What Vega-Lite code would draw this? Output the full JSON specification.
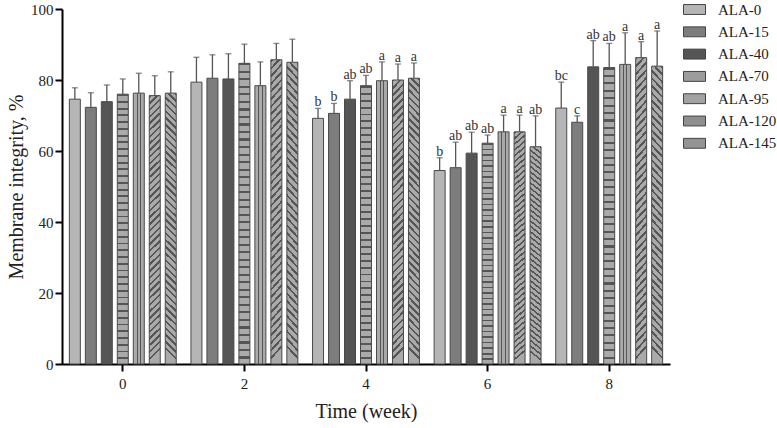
{
  "$schema": "https://vega.github.io/schema/vega-lite/v6.json",
  "autosize": {"type": "none"},
  "width": 608,
  "height": 355,
  "padding": {"left": 62, "top": 9, "right": 107, "bottom": 64},
  "background": "white",
  "config": {
    "view": {"stroke": null},
    "font": "Liberation Serif",
    "axis": {"grid": false, "domainColor": "#000", "domainWidth": 2, "tickColor": "#000", "tickWidth": 2, "tickSize": 7, "labelFont": "Liberation Serif", "labelFontSize": 15, "labelColor": "#222", "titleFont": "Liberation Serif", "titleFontSize": 20, "titleFontWeight": "normal", "titleColor": "#222"}
  },
  "data": {"values": [
    {"week": "0", "series": "ALA-0", "value": 74.6, "err": 77.8, "label": ""},
    {"week": "0", "series": "ALA-15", "value": 72.3, "err": 76.4, "label": ""},
    {"week": "0", "series": "ALA-40", "value": 73.9, "err": 78.6, "label": ""},
    {"week": "0", "series": "ALA-70", "value": 76.0, "err": 80.3, "label": ""},
    {"week": "0", "series": "ALA-95", "value": 76.3, "err": 81.9, "label": ""},
    {"week": "0", "series": "ALA-120", "value": 75.6, "err": 81.2, "label": ""},
    {"week": "0", "series": "ALA-145", "value": 76.3, "err": 82.3, "label": ""},
    {"week": "2", "series": "ALA-0", "value": 79.4, "err": 86.4, "label": ""},
    {"week": "2", "series": "ALA-15", "value": 80.5, "err": 87.1, "label": ""},
    {"week": "2", "series": "ALA-40", "value": 80.3, "err": 87.4, "label": ""},
    {"week": "2", "series": "ALA-70", "value": 84.7, "err": 90.1, "label": ""},
    {"week": "2", "series": "ALA-95", "value": 78.4, "err": 85.1, "label": ""},
    {"week": "2", "series": "ALA-120", "value": 85.7, "err": 90.3, "label": ""},
    {"week": "2", "series": "ALA-145", "value": 85.0, "err": 91.5, "label": ""},
    {"week": "4", "series": "ALA-0", "value": 69.2, "err": 72.0, "label": "b"},
    {"week": "4", "series": "ALA-15", "value": 70.6, "err": 73.4, "label": "b"},
    {"week": "4", "series": "ALA-40", "value": 74.6, "err": 79.8, "label": "ab"},
    {"week": "4", "series": "ALA-70", "value": 78.4, "err": 81.3, "label": "ab"},
    {"week": "4", "series": "ALA-95", "value": 79.8, "err": 85.1, "label": "a"},
    {"week": "4", "series": "ALA-120", "value": 80.0, "err": 84.5, "label": "a"},
    {"week": "4", "series": "ALA-145", "value": 80.5, "err": 84.8, "label": "a"},
    {"week": "6", "series": "ALA-0", "value": 54.5, "err": 58.1, "label": "b"},
    {"week": "6", "series": "ALA-15", "value": 55.3, "err": 62.5, "label": "ab"},
    {"week": "6", "series": "ALA-40", "value": 59.4, "err": 65.3, "label": "ab"},
    {"week": "6", "series": "ALA-70", "value": 62.2, "err": 64.5, "label": "ab"},
    {"week": "6", "series": "ALA-95", "value": 65.4, "err": 70.1, "label": "a"},
    {"week": "6", "series": "ALA-120", "value": 65.4, "err": 70.1, "label": "a"},
    {"week": "6", "series": "ALA-145", "value": 61.2, "err": 69.9, "label": "ab"},
    {"week": "8", "series": "ALA-0", "value": 72.1, "err": 79.4, "label": "bc"},
    {"week": "8", "series": "ALA-15", "value": 68.1, "err": 69.9, "label": "c"},
    {"week": "8", "series": "ALA-40", "value": 83.7, "err": 91.1, "label": "ab"},
    {"week": "8", "series": "ALA-70", "value": 83.5, "err": 90.3, "label": "ab"},
    {"week": "8", "series": "ALA-95", "value": 84.4, "err": 93.3, "label": "a"},
    {"week": "8", "series": "ALA-120", "value": 86.3, "err": 90.8, "label": "a"},
    {"week": "8", "series": "ALA-145", "value": 83.9, "err": 93.8, "label": "a"}
  ]},
  "encoding": {
    "x": {"field": "week", "type": "nominal", "sort": ["0", "2", "4", "6", "8"], "scale": {"paddingInner": 0, "paddingOuter": 0}, "axis": {"title": "Time (week)", "labelAngle": 0, "labelPadding": 5, "titlePadding": 10}},
    "xOffset": {"field": "series", "type": "nominal", "sort": ["ALA-0", "ALA-15", "ALA-40", "ALA-70", "ALA-95", "ALA-120", "ALA-145"], "scale": {"paddingInner": 0.3125, "paddingOuter": 0.46}}
  },
  "layer": [
    {
      "mark": {"type": "bar", "stroke": "#4a4a4a", "strokeWidth": 1},
      "encoding": {
        "y": {"field": "value", "type": "quantitative", "scale": {"domain": [0, 100], "nice": false}, "axis": {"title": "Membrane integrity, %", "values": [0,5,10,15,20,25,30,35,40,45,50,55,60,65,70,75,80,85,90,95,100], "labelExpr": "datum.value % 20 === 0 ? datum.label : ''", "labelPadding": 2, "titlePadding": 4}},
        "color": {
          "field": "series", "type": "nominal",
          "scale": {"domain": ["ALA-0", "ALA-15", "ALA-40", "ALA-70", "ALA-95", "ALA-120", "ALA-145"], "range": ["#b5b5b5", "#7d7d7d", "#555555", "#9c9c9c", "#a2a2a2", "#8f8f8f", "#939393"]},
          "legend": {"title": null, "orient": "none", "legendX": 621, "legendY": -11, "padding": 0, "symbolType": "M-1,-0.45H1V0.45H-1Z", "symbolSize": 484, "symbolStrokeColor": "#444", "symbolStrokeWidth": 1, "symbolOpacity": 1, "labelFont": "Liberation Serif", "labelFontSize": 15, "labelColor": "#222", "labelOffset": 12, "rowPadding": 2.3},
          "condition": [
            {"test": "datum.series === 'ALA-95'", "value": {"gradient": "linear", "x1": 0, "y1": 0, "x2": 1, "y2": 0, "stops": [{"offset": 0, "color": "#aaa"}, {"offset": 0.3, "color": "#aaa"}, {"offset": 0.3, "color": "#555"}, {"offset": 0.39, "color": "#555"}, {"offset": 0.39, "color": "#aaa"}, {"offset": 0.61, "color": "#aaa"}, {"offset": 0.61, "color": "#555"}, {"offset": 0.7, "color": "#555"}, {"offset": 0.7, "color": "#aaa"}, {"offset": 1, "color": "#aaa"}]}},
            {"test": "datum.series === 'ALA-70'", "value": {"gradient": "linear", "x1": 0, "y1": 0, "x2": 0, "y2": 1, "stops": [{"offset":0,"color":"#555"},{"offset":0.007,"color":"#555"},{"offset":0.007,"color":"#aaa"},{"offset":0.025,"color":"#aaa"},{"offset":0.025,"color":"#555"},{"offset":0.032,"color":"#555"},{"offset":0.032,"color":"#aaa"},{"offset":0.05,"color":"#aaa"},{"offset":0.05,"color":"#555"},{"offset":0.057,"color":"#555"},{"offset":0.057,"color":"#aaa"},{"offset":0.075,"color":"#aaa"},{"offset":0.075,"color":"#555"},{"offset":0.082,"color":"#555"},{"offset":0.082,"color":"#aaa"},{"offset":0.1,"color":"#aaa"},{"offset":0.1,"color":"#555"},{"offset":0.107,"color":"#555"},{"offset":0.107,"color":"#aaa"},{"offset":0.125,"color":"#aaa"},{"offset":0.125,"color":"#555"},{"offset":0.132,"color":"#555"},{"offset":0.132,"color":"#aaa"},{"offset":0.15,"color":"#aaa"},{"offset":0.15,"color":"#555"},{"offset":0.157,"color":"#555"},{"offset":0.157,"color":"#aaa"},{"offset":0.175,"color":"#aaa"},{"offset":0.175,"color":"#555"},{"offset":0.182,"color":"#555"},{"offset":0.182,"color":"#aaa"},{"offset":0.2,"color":"#aaa"},{"offset":0.2,"color":"#555"},{"offset":0.207,"color":"#555"},{"offset":0.207,"color":"#aaa"},{"offset":0.225,"color":"#aaa"},{"offset":0.225,"color":"#555"},{"offset":0.232,"color":"#555"},{"offset":0.232,"color":"#aaa"},{"offset":0.25,"color":"#aaa"},{"offset":0.25,"color":"#555"},{"offset":0.257,"color":"#555"},{"offset":0.257,"color":"#aaa"},{"offset":0.275,"color":"#aaa"},{"offset":0.275,"color":"#555"},{"offset":0.282,"color":"#555"},{"offset":0.282,"color":"#aaa"},{"offset":0.3,"color":"#aaa"},{"offset":0.3,"color":"#555"},{"offset":0.307,"color":"#555"},{"offset":0.307,"color":"#aaa"},{"offset":0.325,"color":"#aaa"},{"offset":0.325,"color":"#555"},{"offset":0.332,"color":"#555"},{"offset":0.332,"color":"#aaa"},{"offset":0.35,"color":"#aaa"},{"offset":0.35,"color":"#555"},{"offset":0.357,"color":"#555"},{"offset":0.357,"color":"#aaa"},{"offset":0.375,"color":"#aaa"},{"offset":0.375,"color":"#555"},{"offset":0.382,"color":"#555"},{"offset":0.382,"color":"#aaa"},{"offset":0.4,"color":"#aaa"},{"offset":0.4,"color":"#555"},{"offset":0.407,"color":"#555"},{"offset":0.407,"color":"#aaa"},{"offset":0.425,"color":"#aaa"},{"offset":0.425,"color":"#555"},{"offset":0.432,"color":"#555"},{"offset":0.432,"color":"#aaa"},{"offset":0.45,"color":"#aaa"},{"offset":0.45,"color":"#555"},{"offset":0.457,"color":"#555"},{"offset":0.457,"color":"#aaa"},{"offset":0.475,"color":"#aaa"},{"offset":0.475,"color":"#555"},{"offset":0.482,"color":"#555"},{"offset":0.482,"color":"#aaa"},{"offset":0.5,"color":"#aaa"},{"offset":0.5,"color":"#555"},{"offset":0.507,"color":"#555"},{"offset":0.507,"color":"#aaa"},{"offset":0.525,"color":"#aaa"},{"offset":0.525,"color":"#555"},{"offset":0.532,"color":"#555"},{"offset":0.532,"color":"#aaa"},{"offset":0.55,"color":"#aaa"},{"offset":0.55,"color":"#555"},{"offset":0.557,"color":"#555"},{"offset":0.557,"color":"#aaa"},{"offset":0.575,"color":"#aaa"},{"offset":0.575,"color":"#555"},{"offset":0.582,"color":"#555"},{"offset":0.582,"color":"#aaa"},{"offset":0.6,"color":"#aaa"},{"offset":0.6,"color":"#555"},{"offset":0.607,"color":"#555"},{"offset":0.607,"color":"#aaa"},{"offset":0.625,"color":"#aaa"},{"offset":0.625,"color":"#555"},{"offset":0.632,"color":"#555"},{"offset":0.632,"color":"#aaa"},{"offset":0.65,"color":"#aaa"},{"offset":0.65,"color":"#555"},{"offset":0.657,"color":"#555"},{"offset":0.657,"color":"#aaa"},{"offset":0.675,"color":"#aaa"},{"offset":0.675,"color":"#555"},{"offset":0.682,"color":"#555"},{"offset":0.682,"color":"#aaa"},{"offset":0.7,"color":"#aaa"},{"offset":0.7,"color":"#555"},{"offset":0.707,"color":"#555"},{"offset":0.707,"color":"#aaa"},{"offset":0.725,"color":"#aaa"},{"offset":0.725,"color":"#555"},{"offset":0.732,"color":"#555"},{"offset":0.732,"color":"#aaa"},{"offset":0.75,"color":"#aaa"},{"offset":0.75,"color":"#555"},{"offset":0.757,"color":"#555"},{"offset":0.757,"color":"#aaa"},{"offset":0.775,"color":"#aaa"},{"offset":0.775,"color":"#555"},{"offset":0.782,"color":"#555"},{"offset":0.782,"color":"#aaa"},{"offset":0.8,"color":"#aaa"},{"offset":0.8,"color":"#555"},{"offset":0.807,"color":"#555"},{"offset":0.807,"color":"#aaa"},{"offset":0.825,"color":"#aaa"},{"offset":0.825,"color":"#555"},{"offset":0.832,"color":"#555"},{"offset":0.832,"color":"#aaa"},{"offset":0.85,"color":"#aaa"},{"offset":0.85,"color":"#555"},{"offset":0.857,"color":"#555"},{"offset":0.857,"color":"#aaa"},{"offset":0.875,"color":"#aaa"},{"offset":0.875,"color":"#555"},{"offset":0.882,"color":"#555"},{"offset":0.882,"color":"#aaa"},{"offset":0.9,"color":"#aaa"},{"offset":0.9,"color":"#555"},{"offset":0.907,"color":"#555"},{"offset":0.907,"color":"#aaa"},{"offset":0.925,"color":"#aaa"},{"offset":0.925,"color":"#555"},{"offset":0.932,"color":"#555"},{"offset":0.932,"color":"#aaa"},{"offset":0.95,"color":"#aaa"},{"offset":0.95,"color":"#555"},{"offset":0.957,"color":"#555"},{"offset":0.957,"color":"#aaa"},{"offset":0.975,"color":"#aaa"},{"offset":0.975,"color":"#555"},{"offset":0.982,"color":"#555"},{"offset":0.982,"color":"#aaa"},{"offset":1,"color":"#aaa"}]}},
            {"test": "datum.series === 'ALA-120'", "value": {"gradient": "linear", "x1": 0, "y1": 0, "x2": 0.04, "y2": 1, "stops": [{"offset":0,"color":"#555"},{"offset":0.009,"color":"#555"},{"offset":0.009,"color":"#aaa"},{"offset":0.025,"color":"#aaa"},{"offset":0.025,"color":"#555"},{"offset":0.034,"color":"#555"},{"offset":0.034,"color":"#aaa"},{"offset":0.05,"color":"#aaa"},{"offset":0.05,"color":"#555"},{"offset":0.059,"color":"#555"},{"offset":0.059,"color":"#aaa"},{"offset":0.075,"color":"#aaa"},{"offset":0.075,"color":"#555"},{"offset":0.084,"color":"#555"},{"offset":0.084,"color":"#aaa"},{"offset":0.1,"color":"#aaa"},{"offset":0.1,"color":"#555"},{"offset":0.109,"color":"#555"},{"offset":0.109,"color":"#aaa"},{"offset":0.125,"color":"#aaa"},{"offset":0.125,"color":"#555"},{"offset":0.134,"color":"#555"},{"offset":0.134,"color":"#aaa"},{"offset":0.15,"color":"#aaa"},{"offset":0.15,"color":"#555"},{"offset":0.159,"color":"#555"},{"offset":0.159,"color":"#aaa"},{"offset":0.175,"color":"#aaa"},{"offset":0.175,"color":"#555"},{"offset":0.184,"color":"#555"},{"offset":0.184,"color":"#aaa"},{"offset":0.2,"color":"#aaa"},{"offset":0.2,"color":"#555"},{"offset":0.209,"color":"#555"},{"offset":0.209,"color":"#aaa"},{"offset":0.225,"color":"#aaa"},{"offset":0.225,"color":"#555"},{"offset":0.234,"color":"#555"},{"offset":0.234,"color":"#aaa"},{"offset":0.25,"color":"#aaa"},{"offset":0.25,"color":"#555"},{"offset":0.259,"color":"#555"},{"offset":0.259,"color":"#aaa"},{"offset":0.275,"color":"#aaa"},{"offset":0.275,"color":"#555"},{"offset":0.284,"color":"#555"},{"offset":0.284,"color":"#aaa"},{"offset":0.3,"color":"#aaa"},{"offset":0.3,"color":"#555"},{"offset":0.309,"color":"#555"},{"offset":0.309,"color":"#aaa"},{"offset":0.325,"color":"#aaa"},{"offset":0.325,"color":"#555"},{"offset":0.334,"color":"#555"},{"offset":0.334,"color":"#aaa"},{"offset":0.35,"color":"#aaa"},{"offset":0.35,"color":"#555"},{"offset":0.359,"color":"#555"},{"offset":0.359,"color":"#aaa"},{"offset":0.375,"color":"#aaa"},{"offset":0.375,"color":"#555"},{"offset":0.384,"color":"#555"},{"offset":0.384,"color":"#aaa"},{"offset":0.4,"color":"#aaa"},{"offset":0.4,"color":"#555"},{"offset":0.409,"color":"#555"},{"offset":0.409,"color":"#aaa"},{"offset":0.425,"color":"#aaa"},{"offset":0.425,"color":"#555"},{"offset":0.434,"color":"#555"},{"offset":0.434,"color":"#aaa"},{"offset":0.45,"color":"#aaa"},{"offset":0.45,"color":"#555"},{"offset":0.459,"color":"#555"},{"offset":0.459,"color":"#aaa"},{"offset":0.475,"color":"#aaa"},{"offset":0.475,"color":"#555"},{"offset":0.484,"color":"#555"},{"offset":0.484,"color":"#aaa"},{"offset":0.5,"color":"#aaa"},{"offset":0.5,"color":"#555"},{"offset":0.509,"color":"#555"},{"offset":0.509,"color":"#aaa"},{"offset":0.525,"color":"#aaa"},{"offset":0.525,"color":"#555"},{"offset":0.534,"color":"#555"},{"offset":0.534,"color":"#aaa"},{"offset":0.55,"color":"#aaa"},{"offset":0.55,"color":"#555"},{"offset":0.559,"color":"#555"},{"offset":0.559,"color":"#aaa"},{"offset":0.575,"color":"#aaa"},{"offset":0.575,"color":"#555"},{"offset":0.584,"color":"#555"},{"offset":0.584,"color":"#aaa"},{"offset":0.6,"color":"#aaa"},{"offset":0.6,"color":"#555"},{"offset":0.609,"color":"#555"},{"offset":0.609,"color":"#aaa"},{"offset":0.625,"color":"#aaa"},{"offset":0.625,"color":"#555"},{"offset":0.634,"color":"#555"},{"offset":0.634,"color":"#aaa"},{"offset":0.65,"color":"#aaa"},{"offset":0.65,"color":"#555"},{"offset":0.659,"color":"#555"},{"offset":0.659,"color":"#aaa"},{"offset":0.675,"color":"#aaa"},{"offset":0.675,"color":"#555"},{"offset":0.684,"color":"#555"},{"offset":0.684,"color":"#aaa"},{"offset":0.7,"color":"#aaa"},{"offset":0.7,"color":"#555"},{"offset":0.709,"color":"#555"},{"offset":0.709,"color":"#aaa"},{"offset":0.725,"color":"#aaa"},{"offset":0.725,"color":"#555"},{"offset":0.734,"color":"#555"},{"offset":0.734,"color":"#aaa"},{"offset":0.75,"color":"#aaa"},{"offset":0.75,"color":"#555"},{"offset":0.759,"color":"#555"},{"offset":0.759,"color":"#aaa"},{"offset":0.775,"color":"#aaa"},{"offset":0.775,"color":"#555"},{"offset":0.784,"color":"#555"},{"offset":0.784,"color":"#aaa"},{"offset":0.8,"color":"#aaa"},{"offset":0.8,"color":"#555"},{"offset":0.809,"color":"#555"},{"offset":0.809,"color":"#aaa"},{"offset":0.825,"color":"#aaa"},{"offset":0.825,"color":"#555"},{"offset":0.834,"color":"#555"},{"offset":0.834,"color":"#aaa"},{"offset":0.85,"color":"#aaa"},{"offset":0.85,"color":"#555"},{"offset":0.859,"color":"#555"},{"offset":0.859,"color":"#aaa"},{"offset":0.875,"color":"#aaa"},{"offset":0.875,"color":"#555"},{"offset":0.884,"color":"#555"},{"offset":0.884,"color":"#aaa"},{"offset":0.9,"color":"#aaa"},{"offset":0.9,"color":"#555"},{"offset":0.909,"color":"#555"},{"offset":0.909,"color":"#aaa"},{"offset":0.925,"color":"#aaa"},{"offset":0.925,"color":"#555"},{"offset":0.934,"color":"#555"},{"offset":0.934,"color":"#aaa"},{"offset":0.95,"color":"#aaa"},{"offset":0.95,"color":"#555"},{"offset":0.959,"color":"#555"},{"offset":0.959,"color":"#aaa"},{"offset":0.975,"color":"#aaa"},{"offset":0.975,"color":"#555"},{"offset":0.984,"color":"#555"},{"offset":0.984,"color":"#aaa"},{"offset":1,"color":"#aaa"}]}},
            {"test": "datum.series === 'ALA-145'", "value": {"gradient": "linear", "x1": 1, "y1": 0, "x2": 0.96, "y2": 1, "stops": [{"offset":0,"color":"#555"},{"offset":0.009,"color":"#555"},{"offset":0.009,"color":"#aaa"},{"offset":0.025,"color":"#aaa"},{"offset":0.025,"color":"#555"},{"offset":0.034,"color":"#555"},{"offset":0.034,"color":"#aaa"},{"offset":0.05,"color":"#aaa"},{"offset":0.05,"color":"#555"},{"offset":0.059,"color":"#555"},{"offset":0.059,"color":"#aaa"},{"offset":0.075,"color":"#aaa"},{"offset":0.075,"color":"#555"},{"offset":0.084,"color":"#555"},{"offset":0.084,"color":"#aaa"},{"offset":0.1,"color":"#aaa"},{"offset":0.1,"color":"#555"},{"offset":0.109,"color":"#555"},{"offset":0.109,"color":"#aaa"},{"offset":0.125,"color":"#aaa"},{"offset":0.125,"color":"#555"},{"offset":0.134,"color":"#555"},{"offset":0.134,"color":"#aaa"},{"offset":0.15,"color":"#aaa"},{"offset":0.15,"color":"#555"},{"offset":0.159,"color":"#555"},{"offset":0.159,"color":"#aaa"},{"offset":0.175,"color":"#aaa"},{"offset":0.175,"color":"#555"},{"offset":0.184,"color":"#555"},{"offset":0.184,"color":"#aaa"},{"offset":0.2,"color":"#aaa"},{"offset":0.2,"color":"#555"},{"offset":0.209,"color":"#555"},{"offset":0.209,"color":"#aaa"},{"offset":0.225,"color":"#aaa"},{"offset":0.225,"color":"#555"},{"offset":0.234,"color":"#555"},{"offset":0.234,"color":"#aaa"},{"offset":0.25,"color":"#aaa"},{"offset":0.25,"color":"#555"},{"offset":0.259,"color":"#555"},{"offset":0.259,"color":"#aaa"},{"offset":0.275,"color":"#aaa"},{"offset":0.275,"color":"#555"},{"offset":0.284,"color":"#555"},{"offset":0.284,"color":"#aaa"},{"offset":0.3,"color":"#aaa"},{"offset":0.3,"color":"#555"},{"offset":0.309,"color":"#555"},{"offset":0.309,"color":"#aaa"},{"offset":0.325,"color":"#aaa"},{"offset":0.325,"color":"#555"},{"offset":0.334,"color":"#555"},{"offset":0.334,"color":"#aaa"},{"offset":0.35,"color":"#aaa"},{"offset":0.35,"color":"#555"},{"offset":0.359,"color":"#555"},{"offset":0.359,"color":"#aaa"},{"offset":0.375,"color":"#aaa"},{"offset":0.375,"color":"#555"},{"offset":0.384,"color":"#555"},{"offset":0.384,"color":"#aaa"},{"offset":0.4,"color":"#aaa"},{"offset":0.4,"color":"#555"},{"offset":0.409,"color":"#555"},{"offset":0.409,"color":"#aaa"},{"offset":0.425,"color":"#aaa"},{"offset":0.425,"color":"#555"},{"offset":0.434,"color":"#555"},{"offset":0.434,"color":"#aaa"},{"offset":0.45,"color":"#aaa"},{"offset":0.45,"color":"#555"},{"offset":0.459,"color":"#555"},{"offset":0.459,"color":"#aaa"},{"offset":0.475,"color":"#aaa"},{"offset":0.475,"color":"#555"},{"offset":0.484,"color":"#555"},{"offset":0.484,"color":"#aaa"},{"offset":0.5,"color":"#aaa"},{"offset":0.5,"color":"#555"},{"offset":0.509,"color":"#555"},{"offset":0.509,"color":"#aaa"},{"offset":0.525,"color":"#aaa"},{"offset":0.525,"color":"#555"},{"offset":0.534,"color":"#555"},{"offset":0.534,"color":"#aaa"},{"offset":0.55,"color":"#aaa"},{"offset":0.55,"color":"#555"},{"offset":0.559,"color":"#555"},{"offset":0.559,"color":"#aaa"},{"offset":0.575,"color":"#aaa"},{"offset":0.575,"color":"#555"},{"offset":0.584,"color":"#555"},{"offset":0.584,"color":"#aaa"},{"offset":0.6,"color":"#aaa"},{"offset":0.6,"color":"#555"},{"offset":0.609,"color":"#555"},{"offset":0.609,"color":"#aaa"},{"offset":0.625,"color":"#aaa"},{"offset":0.625,"color":"#555"},{"offset":0.634,"color":"#555"},{"offset":0.634,"color":"#aaa"},{"offset":0.65,"color":"#aaa"},{"offset":0.65,"color":"#555"},{"offset":0.659,"color":"#555"},{"offset":0.659,"color":"#aaa"},{"offset":0.675,"color":"#aaa"},{"offset":0.675,"color":"#555"},{"offset":0.684,"color":"#555"},{"offset":0.684,"color":"#aaa"},{"offset":0.7,"color":"#aaa"},{"offset":0.7,"color":"#555"},{"offset":0.709,"color":"#555"},{"offset":0.709,"color":"#aaa"},{"offset":0.725,"color":"#aaa"},{"offset":0.725,"color":"#555"},{"offset":0.734,"color":"#555"},{"offset":0.734,"color":"#aaa"},{"offset":0.75,"color":"#aaa"},{"offset":0.75,"color":"#555"},{"offset":0.759,"color":"#555"},{"offset":0.759,"color":"#aaa"},{"offset":0.775,"color":"#aaa"},{"offset":0.775,"color":"#555"},{"offset":0.784,"color":"#555"},{"offset":0.784,"color":"#aaa"},{"offset":0.8,"color":"#aaa"},{"offset":0.8,"color":"#555"},{"offset":0.809,"color":"#555"},{"offset":0.809,"color":"#aaa"},{"offset":0.825,"color":"#aaa"},{"offset":0.825,"color":"#555"},{"offset":0.834,"color":"#555"},{"offset":0.834,"color":"#aaa"},{"offset":0.85,"color":"#aaa"},{"offset":0.85,"color":"#555"},{"offset":0.859,"color":"#555"},{"offset":0.859,"color":"#aaa"},{"offset":0.875,"color":"#aaa"},{"offset":0.875,"color":"#555"},{"offset":0.884,"color":"#555"},{"offset":0.884,"color":"#aaa"},{"offset":0.9,"color":"#aaa"},{"offset":0.9,"color":"#555"},{"offset":0.909,"color":"#555"},{"offset":0.909,"color":"#aaa"},{"offset":0.925,"color":"#aaa"},{"offset":0.925,"color":"#555"},{"offset":0.934,"color":"#555"},{"offset":0.934,"color":"#aaa"},{"offset":0.95,"color":"#aaa"},{"offset":0.95,"color":"#555"},{"offset":0.959,"color":"#555"},{"offset":0.959,"color":"#aaa"},{"offset":0.975,"color":"#aaa"},{"offset":0.975,"color":"#555"},{"offset":0.984,"color":"#555"},{"offset":0.984,"color":"#aaa"},{"offset":1,"color":"#aaa"}]}}
          ]
        }
      }
    },
    {
      "mark": {"type": "rule", "color": "#555", "strokeWidth": 1.3},
      "encoding": {
        "y": {"field": "value", "type": "quantitative", "scale": {"domain": [0, 100], "nice": false}},
        "y2": {"field": "err"}
      }
    },
    {
      "mark": {"type": "tick", "color": "#555", "size": 6, "thickness": 1.3},
      "encoding": {
        "y": {"field": "err", "type": "quantitative", "scale": {"domain": [0, 100], "nice": false}}
      }
    },
    {
      "transform": [{"filter": "datum.label !== ''"}],
      "mark": {"type": "text", "font": "Liberation Serif", "fontSize": 14, "fill": "#333", "baseline": "alphabetic", "dy": -2},
      "encoding": {
        "y": {"field": "err", "type": "quantitative", "scale": {"domain": [0, 100], "nice": false}},
        "text": {"field": "label"}
      }
    }
  ]
}
